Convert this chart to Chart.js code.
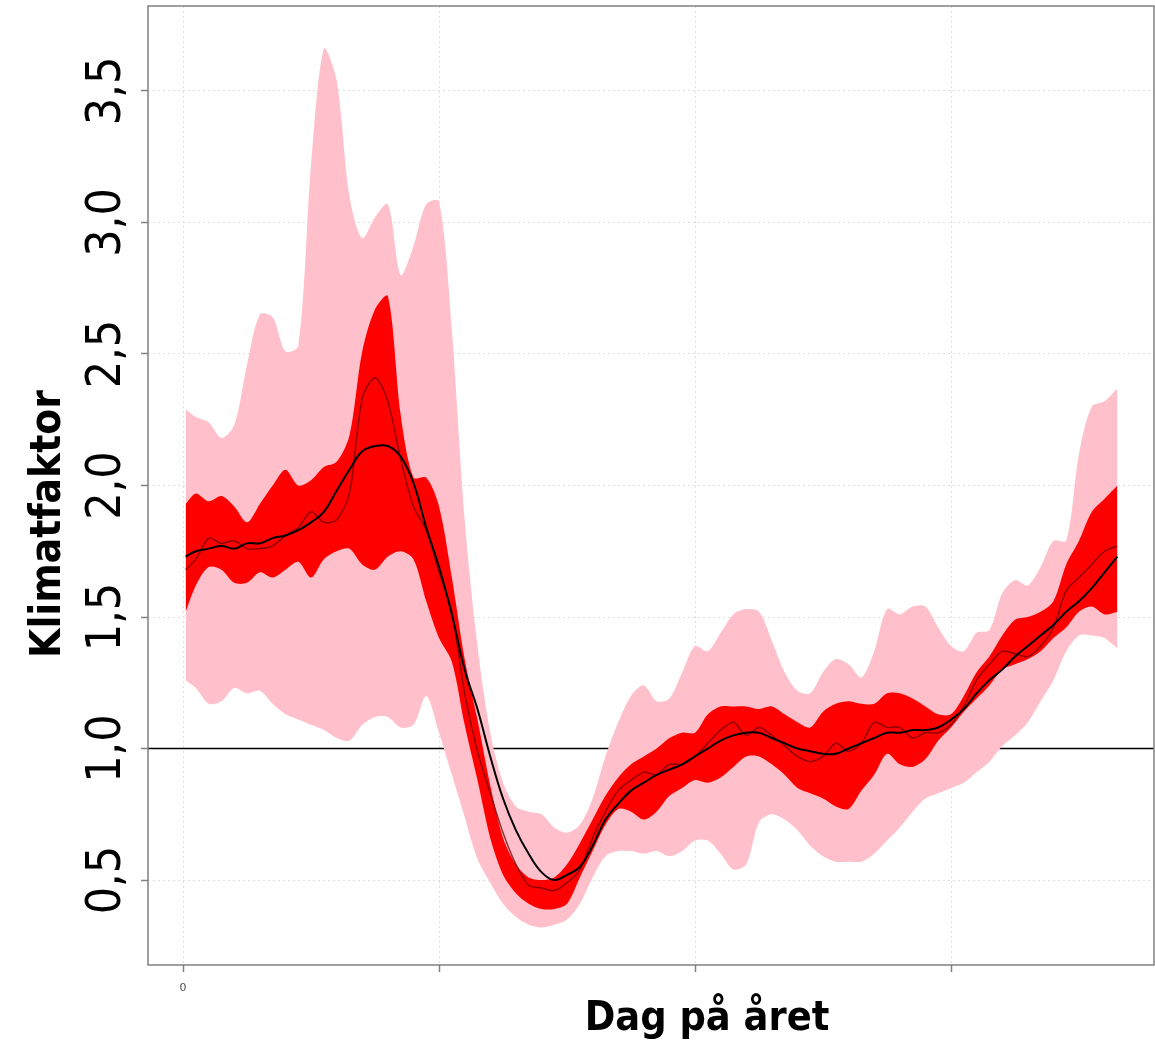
<!DOCTYPE html>
<html>
<head>
<meta charset="utf-8">
<script src="https://cdn.jsdelivr.net/npm/chart.js@4/dist/chart.umd.min.js"></script>
<style>
  html, body { margin: 0; padding: 0; background: #fff; }
  #wrap { position: relative; width: 1155px; height: 1049px; }
</style>
</head>
<body>
<div id="wrap"><canvas id="klimat"></canvas></div>
<script>
/* DATA */
const days = [1, 5, 10, 15, 20, 25, 30, 35, 40, 45, 50, 55, 60, 65, 70, 75, 80, 85, 90, 95,
  100, 105, 110, 115, 120, 125, 130, 135, 140, 145, 150, 155, 160, 165, 170, 175, 180, 185, 190, 195,
  200, 205, 210, 215, 220, 225, 230, 235, 240, 245, 250, 255, 260, 265, 270, 275, 280, 285, 290, 295,
  300, 305, 310, 315, 320, 325, 330, 335, 340, 345, 350, 355, 360, 365];

// ljusrosa band (yttre intervall)
const pinkHigh = [2.29, 2.26, 2.24, 2.18, 2.23, 2.46, 2.65, 2.64, 2.51, 2.53,
  3.22, 3.66, 3.54, 3.10, 2.94, 3.02, 3.07, 2.80, 2.91, 3.07,
  3.08, 2.59, 1.87, 1.39, 1.06, 0.87, 0.78, 0.76, 0.75, 0.70,
  0.68, 0.71, 0.81, 0.97, 1.10, 1.20, 1.24, 1.18, 1.19, 1.29,
  1.39, 1.37, 1.44, 1.51, 1.53, 1.52, 1.41, 1.29, 1.22, 1.21,
  1.29, 1.34, 1.32, 1.27, 1.37, 1.53, 1.51, 1.54, 1.54, 1.46,
  1.39, 1.37, 1.44, 1.45, 1.59, 1.64, 1.62, 1.69, 1.79, 1.79,
  2.12, 2.30, 2.32, 2.37];
const pinkLow = [1.26, 1.23, 1.17, 1.18, 1.23, 1.21, 1.22, 1.17, 1.13, 1.11,
  1.09, 1.07, 1.04, 1.03, 1.09, 1.12, 1.12, 1.08, 1.09, 1.20,
  1.06, 0.90, 0.74, 0.58, 0.49, 0.41, 0.36, 0.33, 0.32, 0.33,
  0.35, 0.41, 0.51, 0.59, 0.61, 0.61, 0.60, 0.61, 0.59, 0.61,
  0.65, 0.65, 0.60, 0.54, 0.56, 0.72, 0.75, 0.73, 0.69, 0.63,
  0.59, 0.57, 0.57, 0.57, 0.60, 0.65, 0.70, 0.76, 0.81, 0.83,
  0.85, 0.87, 0.91, 0.95, 1.01, 1.05, 1.10, 1.18, 1.26, 1.37,
  1.43, 1.43, 1.42, 1.38];

// rött band (inre intervall)
const redHigh = [1.93, 1.97, 1.94, 1.96, 1.92, 1.86, 1.93, 2.00, 2.06, 2.00,
  2.02, 2.07, 2.09, 2.19, 2.51, 2.67, 2.72, 2.27, 2.03, 2.03,
  1.92, 1.65, 1.34, 1.11, 0.86, 0.66, 0.56, 0.51, 0.50, 0.51,
  0.56, 0.64, 0.73, 0.82, 0.89, 0.94, 0.97, 1.00, 1.04, 1.06,
  1.06, 1.13, 1.16, 1.16, 1.16, 1.15, 1.16, 1.13, 1.10, 1.08,
  1.14, 1.17, 1.18, 1.17, 1.17, 1.21, 1.21, 1.19, 1.16, 1.13,
  1.13, 1.20, 1.29, 1.35, 1.43, 1.49, 1.50, 1.52, 1.56, 1.70,
  1.79, 1.90, 1.95, 2.00];
const redLow = [1.52, 1.62, 1.69, 1.68, 1.63, 1.63, 1.67, 1.65, 1.68, 1.71,
  1.65, 1.72, 1.75, 1.76, 1.70, 1.68, 1.73, 1.75, 1.72, 1.56,
  1.42, 1.33, 1.09, 0.88, 0.66, 0.52, 0.45, 0.41, 0.39, 0.39,
  0.41, 0.51, 0.61, 0.71, 0.77, 0.76, 0.73, 0.76, 0.82, 0.85,
  0.88, 0.87, 0.89, 0.93, 0.97, 0.97, 0.94, 0.90, 0.85, 0.83,
  0.81, 0.78, 0.77, 0.84, 0.90, 0.98, 0.94, 0.93, 0.96, 1.03,
  1.08, 1.14, 1.19, 1.24, 1.30, 1.32, 1.34, 1.37, 1.42, 1.46,
  1.52, 1.54, 1.51, 1.52];

// median (mörkröd) och utjämnad kurva (svart)
const median = [1.68, 1.72, 1.80, 1.78, 1.79, 1.76, 1.76, 1.77, 1.81, 1.84,
  1.90, 1.86, 1.87, 1.97, 2.33, 2.41, 2.32, 2.10, 1.92, 1.83,
  1.67, 1.52, 1.21, 0.99, 0.83, 0.68, 0.56, 0.48, 0.47, 0.46,
  0.49, 0.54, 0.66, 0.76, 0.84, 0.88, 0.91, 0.90, 0.94, 0.94,
  0.97, 1.02, 1.07, 1.10, 1.05, 1.08, 1.05, 1.01, 0.97, 0.95,
  0.97, 1.02, 0.99, 1.02, 1.10, 1.08, 1.08, 1.04, 1.06, 1.06,
  1.09, 1.16, 1.26, 1.32, 1.37, 1.36, 1.35, 1.39, 1.46, 1.60,
  1.65, 1.70, 1.75, 1.77];
const smooth = [1.73, 1.75, 1.76, 1.77, 1.76, 1.78, 1.78, 1.80, 1.81, 1.83,
  1.86, 1.90, 1.98, 2.06, 2.13, 2.15, 2.15, 2.11, 2.01, 1.84,
  1.69, 1.51, 1.30, 1.15, 0.97, 0.81, 0.69, 0.60, 0.53, 0.50,
  0.52, 0.55, 0.63, 0.73, 0.79, 0.84, 0.87, 0.90, 0.92, 0.94,
  0.97, 1.00, 1.03, 1.05, 1.06, 1.06, 1.04, 1.02, 1.00, 0.99,
  0.98, 0.98, 1.00, 1.02, 1.04, 1.06, 1.06, 1.07, 1.07, 1.08,
  1.11, 1.15, 1.21, 1.26, 1.30, 1.35, 1.39, 1.43, 1.47, 1.52,
  1.56, 1.61, 1.67, 1.73];

const xTicks = [0, 100, 200, 300];
const xTickLabels = ["0", "", "", ""];
const yTicks = [0.5, 1.0, 1.5, 2.0, 2.5, 3.0, 3.5];
const yTickLabels = ["0,5", "1,0", "1,5", "2,0", "2,5", "3,0", "3,5"];
const refLevel = 1.0;

const xMin = -13.7, xMax = 379.3;
const yMin = 0.177, yMax = 3.823;

function pts(arr) {
  return days.map((d, i) => ({ x: d, y: arr[i] }));
}

/* TEXT + RAM */
const frameAndText = {
  id: "frameAndText",
  afterDatasetsDraw(chart) {
    const { ctx, chartArea: a } = chart;
    ctx.save();
    ctx.strokeStyle = "#808080";
    ctx.lineWidth = 1.5;
    ctx.strokeRect(a.left, a.top, a.right - a.left, a.bottom - a.top);
    ctx.restore();
  },
  afterDraw(chart) {
    const { ctx } = chart;
    const y = chart.scales.y;
    ctx.save();
    ctx.fillStyle = "#000";
    ctx.textAlign = "center";
    ctx.textBaseline = "alphabetic";

    ctx.font = "48px 'DejaVu Sans Condensed', 'DejaVu Sans', sans-serif";
    yTicks.forEach((v, i) => {
      ctx.save();
      ctx.translate(120, y.getPixelForValue(v));
      ctx.rotate(-Math.PI / 2);
      ctx.fillText(yTickLabels[i], 0, 0);
      ctx.restore();
    });

    ctx.font = "bold 42px 'DejaVu Sans Condensed', 'DejaVu Sans', sans-serif";
    ctx.save();
    ctx.translate(60, 524);
    ctx.rotate(-Math.PI / 2);
    ctx.fillText("Klimatfaktor", 0, 0);
    ctx.restore();

    ctx.font = "bold 41px 'DejaVu Sans Condensed', 'DejaVu Sans', sans-serif";
    ctx.fillText("Dag på året", 707, 1030);
    ctx.restore();
  }
};

const gridColor = "#dedede";

new Chart(document.getElementById("klimat"), {
  type: "line",
  data: {
    datasets: [
      {
        data: [{ x: xMin, y: refLevel }, { x: xMax, y: refLevel }],
        borderColor: "#000", borderWidth: 1.6, pointRadius: 0, order: 10
      },
      {
        data: pts(pinkHigh), borderWidth: 0, pointRadius: 0,
        backgroundColor: "#FFC0CB", fill: "+1", order: 9, tension: 0.3
      },
      {
        data: pts(pinkLow), borderWidth: 0, pointRadius: 0, fill: false, order: 9, tension: 0.3
      },
      {
        data: pts(redHigh), borderWidth: 0, pointRadius: 0,
        backgroundColor: "#FF0000", fill: "+1", order: 8, tension: 0.3
      },
      {
        data: pts(redLow), borderWidth: 0, pointRadius: 0, fill: false, order: 8, tension: 0.3
      },
      {
        data: pts(median), borderColor: "rgba(110,0,0,0.75)", borderWidth: 1.5,
        pointRadius: 0, fill: false, order: 7, tension: 0.3
      },
      {
        data: pts(smooth), borderColor: "#000", borderWidth: 2,
        pointRadius: 0, fill: false, order: 6, tension: 0.4
      }
    ]
  },
  options: {
    responsive: true,
    maintainAspectRatio: false,
    animation: false,
    layout: { padding: { left: 0, right: 1, top: 6, bottom: 0 } },
    plugins: {
      legend: { display: false },
      tooltip: { enabled: false }
    },
    scales: {
      x: {
        type: "linear",
        min: xMin,
        max: xMax,
        afterBuildTicks: s => { s.ticks = xTicks.map(v => ({ value: v })); },
        afterFit: s => { s.height = 84; },
        ticks: {
          autoSkip: false,
          maxRotation: 0,
          padding: 10,
          color: "#4d4d4d",
          font: { family: "'DejaVu Sans', sans-serif", size: 11 },
          callback: (v) => xTickLabels[xTicks.indexOf(v)] ?? ""
        },
        grid: {
          color: gridColor, lineWidth: 1,
          drawTicks: true, tickLength: 7, tickColor: "#808080", tickWidth: 1.5
        },
        border: { display: false, dash: [2, 3] }
      },
      y: {
        min: yMin,
        max: yMax,
        afterBuildTicks: s => { s.ticks = yTicks.map(v => ({ value: v })); },
        afterFit: s => { s.width = 148; },
        ticks: { display: false },
        grid: {
          color: gridColor, lineWidth: 1,
          drawTicks: true, tickLength: 7, tickColor: "#808080", tickWidth: 1.5
        },
        border: { display: false, dash: [2, 3] }
      }
    }
  },
  plugins: [frameAndText]
});
</script>
</body>
</html>
